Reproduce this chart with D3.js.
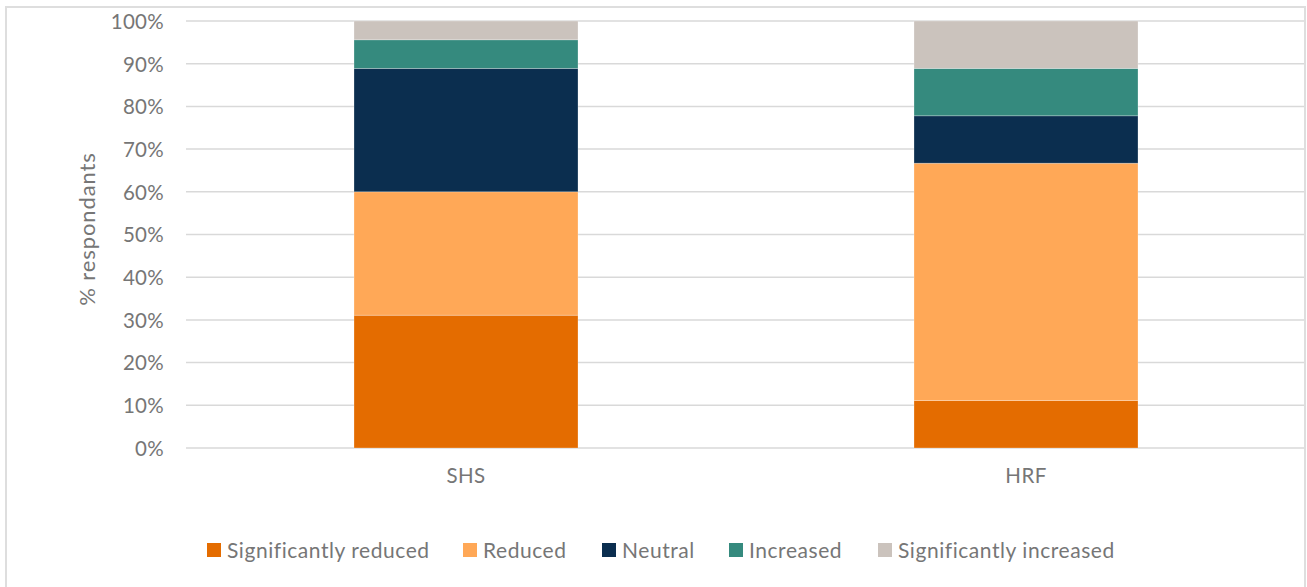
<!DOCTYPE html>
<html>
<head>
<meta charset="utf-8">
<script src="https://cdn.jsdelivr.net/npm/d3@7"></script>
<style>
  html, body { margin: 0; padding: 0; background: #fff; }
  svg { display: block; font-family: Lato, "Open Sans", sans-serif; }
</style>
</head>
<body>
<svg id="chart" width="1307" height="587"></svg>
<script>
// ---- data ----
const categories = ["SHS", "HRF"];
const seriesNames = ["Significantly reduced", "Reduced", "Neutral", "Increased", "Significantly increased"];
const sigReduced = [31.1, 11.1];
const reduced = [28.9, 55.6];
const neutral = [28.9, 11.1];
const increased = [6.7, 11.1];
const sigIncreased = [4.4, 11.1];
const yTicks = [0, 10, 20, 30, 40, 50, 60, 70, 80, 90, 100];
const colors = ["#E46C00", "#FFA857", "#0B2E4F", "#358A7E", "#CBC3BD"];

const seriesValues = [sigReduced, reduced, neutral, increased, sigIncreased];
const table = categories.map((c, i) => {
  const row = { category: c };
  seriesNames.forEach((s, k) => row[s] = seriesValues[k][i]);
  return row;
});

const svg = d3.select("#chart");
const textColor = "#767676";

// chart border
svg.append("rect")
  .attr("x", 6).attr("y", 7).attr("width", 1299).attr("height", 600)
  .attr("fill", "none").attr("stroke", "#dedede").attr("stroke-width", 2);

const x = d3.scaleBand().domain(categories).range([186, 1306]).paddingInner(0.6).paddingOuter(0.3);
const y = d3.scaleLinear().domain([0, 100]).range([448, 21]);

// gridlines
svg.append("g").selectAll("line").data(yTicks).join("line")
  .attr("x1", 186).attr("x2", 1304)
  .attr("y1", d => y(d)).attr("y2", d => y(d))
  .attr("stroke", "#d9d9d9").attr("stroke-width", 1.5);

// y axis labels
const yAxis = d3.axisLeft(y).tickValues(yTicks).tickFormat(d => d + "%").tickSize(0).tickPadding(0);
const gy = svg.append("g").attr("transform", "translate(164,0)").call(yAxis);
gy.select(".domain").remove();
gy.selectAll("text").attr("fill", textColor).attr("font-size", 20.5).attr("letter-spacing", 0.3)
  .attr("font-family", "Lato, sans-serif").attr("dy", "0.36em");

// stacked bars
const stack = d3.stack().keys(seriesNames);
const stacked = stack(table);
svg.append("g").selectAll("g").data(stacked).join("g")
  .attr("fill", (d, i) => colors[i])
  .selectAll("rect").data(d => d).join("rect")
  .attr("x", d => x(d.data.category))
  .attr("width", x.bandwidth())
  .attr("y", d => y(d[1]))
  .attr("height", d => y(d[0]) - y(d[1]))
  .attr("stroke", "#ffffff").attr("stroke-opacity", 0.35).attr("stroke-width", 0.75);

// x axis labels
const xAxis = d3.axisBottom(x).tickSize(0).tickPadding(0);
const gx = svg.append("g").attr("transform", "translate(0,468)").call(xAxis);
gx.select(".domain").remove();
gx.selectAll("text").attr("fill", textColor).attr("font-size", 20.5).attr("letter-spacing", 0.4)
  .attr("font-family", "Lato, sans-serif").attr("dy", "0.71em");

// y axis title
svg.append("text")
  .attr("transform", "translate(95,229) rotate(-90)")
  .attr("text-anchor", "middle")
  .attr("fill", textColor).attr("font-size", 22).attr("letter-spacing", 0.9)
  .text("% respondants");

// legend
const legendX = [207, 463, 602, 729, 878];
const lg = svg.append("g").selectAll("g").data(seriesNames).join("g")
  .attr("transform", (d, i) => `translate(${legendX[i]},543)`);
lg.append("rect").attr("width", 14).attr("height", 14).attr("fill", (d, i) => colors[i]);
lg.append("text").attr("x", 20).attr("y", 7).attr("dy", "0.36em")
  .attr("fill", textColor).attr("font-size", 21).attr("letter-spacing", 0.55).text(d => d);
</script>
</body>
</html>
